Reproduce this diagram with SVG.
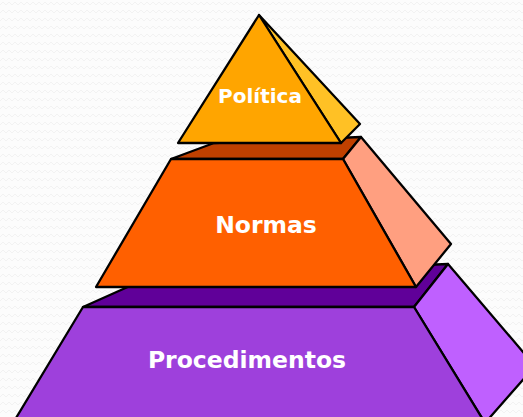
<svg xmlns="http://www.w3.org/2000/svg" width="523" height="417" viewBox="0 0 523 417">
<defs>
<pattern id="bg" width="12" height="8" patternUnits="userSpaceOnUse">
<rect width="12" height="8" fill="#FCFCFC"/>
<path d="M0 5 L3 2 L6 5 L9 2 L12 5" fill="none" stroke="#F2F2F2" stroke-width="1"/>
</pattern>
<style>
.f{stroke:#000;stroke-width:2.3;stroke-linejoin:round}
.t{font-family:"DejaVu Sans",Verdana,sans-serif;font-weight:bold;fill:#FFFFFF;text-anchor:middle}
</style>
</defs>
<rect width="523" height="417" fill="url(#bg)"/>
<g id="procedimentos">
<polygon class="f" fill="#600099" points="83,307 150,277 448,264 414,307"/>
<polygon class="f" fill="#BF60FF" points="414,307 448,264 535,366 485,423"/>
<polygon class="f" fill="#9E40DC" points="83,307 414,307 485,423 13,423"/>
<text class="t" x="247" y="368" font-size="23.5">Procedimentos</text>
</g>
<g id="normas">
<polygon class="f" fill="#C04000" points="171,159 214,143 361,137 343,159"/>
<polygon class="f" fill="#FF9F80" points="343,159 361,137 451,244 416,287"/>
<polygon class="f" fill="#FF6000" points="171,159 343,159 416,287 96,287"/>
<text class="t" x="266" y="233" font-size="23.5">Normas</text>
</g>
<g id="politica">
<polygon class="f" fill="#FFC125" points="259,15 360,124 341,143"/>
<polygon class="f" fill="#FFA500" points="259,15 341,143 178,143"/>
<text class="t" x="260" y="103" font-size="20">Política</text>
</g>
<g id="connectors"/>
</svg>
